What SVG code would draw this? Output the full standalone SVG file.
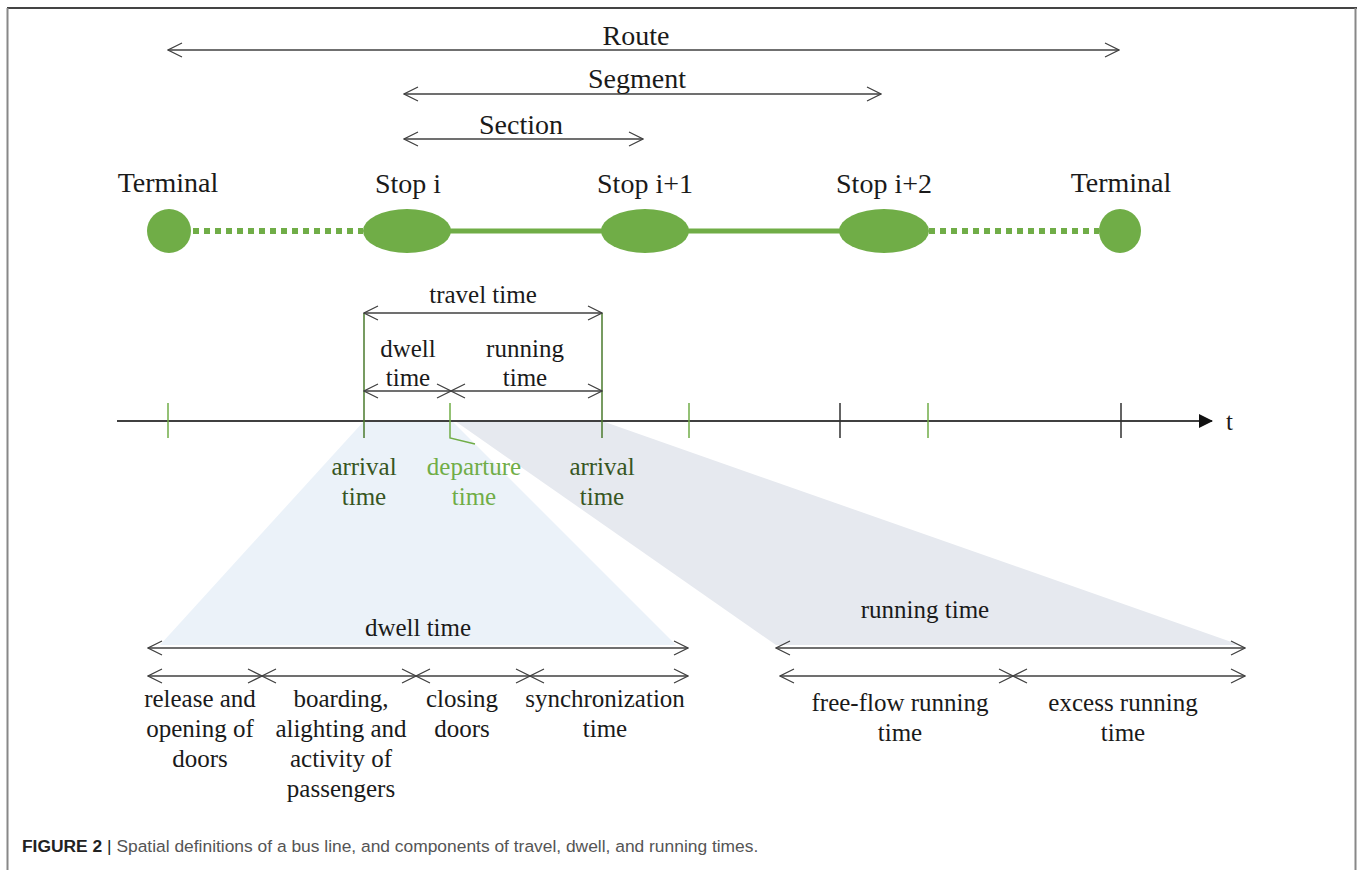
<svg xmlns="http://www.w3.org/2000/svg" width="1358" height="870" viewBox="0 0 1358 870">
  <defs>
    <marker id="open" viewBox="0 0 16 16" refX="15" refY="8" markerWidth="16" markerHeight="16" markerUnits="userSpaceOnUse" orient="auto-start-reverse">
      <path d="M1,1 L15,8 L1,15" fill="none" stroke="#404040" stroke-width="1.2"/>
    </marker>
    <marker id="solid" viewBox="0 0 14 14" refX="13" refY="7" markerWidth="14" markerHeight="14" markerUnits="userSpaceOnUse" orient="auto">
      <path d="M0,0 L14,7 L0,14 Z" fill="#111"/>
    </marker>
  </defs>
  <style>
    .t { font-family: "Liberation Serif", "Times New Roman", serif; font-size: 25px; fill: #1a1a1a; text-anchor: middle; }
    .big { font-size: 28px; }
    .dim { stroke: #404040; stroke-width: 1.5; fill: none; marker-start: url(#open); marker-end: url(#open); }
    .node { fill: #70AD47; }
    .dash { stroke: #70AD47; stroke-width: 6; stroke-dasharray: 6 5; fill: none; }
    .link { stroke: #70AD47; stroke-width: 5; fill: none; }
    .tick-g { stroke: #70AD47; stroke-width: 1.5; }
    .tick-dg { stroke: #4A7A2C; stroke-width: 1.5; }
    .tick-k { stroke: #303030; stroke-width: 1.5; }
    .dk { fill: #375623; }
    .lg { fill: #70AD47; }
  </style>

  <!-- frame -->
  <rect width="1358" height="870" fill="#ffffff"/>
  <line x1="7" y1="8" x2="1357" y2="8" stroke="#444" stroke-width="2"/>
  <line x1="7.5" y1="8" x2="7.5" y2="870" stroke="#888" stroke-width="2"/>
  <line x1="1355.5" y1="8" x2="1355.5" y2="870" stroke="#888" stroke-width="2"/>

  <!-- projection wedges -->
  <polygon points="364,421 452,421 676,645 160,645" fill="#EBF2F9"/>
  <polygon points="455,421 602,421 1240,645 776,645" fill="#E6E9EF"/>

  <!-- spatial extents -->
  <g id="extents">
    <line class="dim" x1="168" y1="50" x2="1119" y2="50"/>
    <text class="t big" x="636" y="45">Route</text>
    <line class="dim" x1="404" y1="94" x2="881" y2="94"/>
    <text class="t big" x="637" y="88">Segment</text>
    <line class="dim" x1="404" y1="139" x2="643" y2="139"/>
    <text class="t big" x="521" y="134">Section</text>
  </g>

  <!-- line between stops -->
  <g id="connectors">
    <line class="dash" x1="193" y1="231" x2="363" y2="231"/>
    <line class="link" x1="450" y1="231" x2="602" y2="231"/>
    <line class="link" x1="688" y1="231" x2="840" y2="231"/>
    <line class="dash" x1="929" y1="231" x2="1099" y2="231"/>
  </g>

  <g id="terminal-start">
    <text class="t big" x="168" y="192">Terminal</text>
    <circle class="node" cx="169" cy="231" r="22"/>
  </g>
  <g id="stop-i">
    <text class="t big" x="408" y="193">Stop i</text>
    <ellipse class="node" cx="407" cy="231" rx="44" ry="22"/>
  </g>
  <g id="stop-i1">
    <text class="t big" x="645" y="193">Stop i+1</text>
    <ellipse class="node" cx="645" cy="231" rx="44" ry="22"/>
  </g>
  <g id="stop-i2">
    <text class="t big" x="884" y="193">Stop i+2</text>
    <ellipse class="node" cx="884" cy="231" rx="45" ry="22"/>
  </g>
  <g id="terminal-end">
    <text class="t big" x="1121" y="192">Terminal</text>
    <ellipse class="node" cx="1120" cy="231" rx="21" ry="22"/>
  </g>

  <!-- time axis -->
  <g id="time-axis">
    <line x1="117" y1="421" x2="1212" y2="421" stroke="#404040" stroke-width="2" marker-end="url(#solid)"/>
    <text x="1226" y="430" font-family="Liberation Serif, serif" font-size="25" fill="#1a1a1a">t</text>
    <line class="tick-g" x1="168" y1="403" x2="168" y2="438"/>
    <line class="tick-g" x1="689" y1="403" x2="689" y2="438"/>
    <line class="tick-k" x1="840" y1="403" x2="840" y2="438"/>
    <line class="tick-g" x1="928" y1="403" x2="928" y2="438"/>
    <line class="tick-k" x1="1121" y1="403" x2="1121" y2="438"/>
    <line class="tick-dg" x1="364" y1="313" x2="364" y2="438"/>
    <line class="tick-dg" x1="602" y1="313" x2="602" y2="438"/>
    <polyline points="450,403 450,438 475,444" fill="none" stroke="#70AD47" stroke-width="1.5"/>
  </g>

  <!-- travel / dwell / running on the axis -->
  <g id="travel-time">
    <line class="dim" x1="364" y1="313" x2="602" y2="313"/>
    <text class="t" x="483" y="303" font-size="26">travel time</text>
    <line class="dim" x1="364" y1="391" x2="451" y2="391"/>
    <line class="dim" x1="451" y1="391" x2="602" y2="391"/>
    <text class="t" x="408" y="357">dwell</text>
    <text class="t" x="408" y="386">time</text>
    <text class="t" x="525" y="357">running</text>
    <text class="t" x="525" y="386">time</text>
  </g>

  <g id="event-labels">
    <text class="t dk" x="364" y="475">arrival</text>
    <text class="t dk" x="364" y="505">time</text>
    <text class="t lg" x="474" y="475">departure</text>
    <text class="t lg" x="474" y="505">time</text>
    <text class="t dk" x="602" y="475">arrival</text>
    <text class="t dk" x="602" y="505">time</text>
  </g>

  <!-- dwell time breakdown -->
  <g id="dwell-breakdown">
    <text class="t" x="418" y="636">dwell time</text>
    <line class="dim" x1="148" y1="648" x2="688" y2="648"/>
    <line class="dim" x1="148" y1="676" x2="262" y2="676"/>
    <line class="dim" x1="262" y1="676" x2="416" y2="676"/>
    <line class="dim" x1="416" y1="676" x2="530" y2="676"/>
    <line class="dim" x1="530" y1="676" x2="688" y2="676"/>
    <text class="t" x="200" y="707">release and</text>
    <text class="t" x="200" y="737">opening of</text>
    <text class="t" x="200" y="767">doors</text>
    <text class="t" x="341" y="707">boarding,</text>
    <text class="t" x="341" y="737">alighting and</text>
    <text class="t" x="341" y="767">activity of</text>
    <text class="t" x="341" y="797">passengers</text>
    <text class="t" x="462" y="707">closing</text>
    <text class="t" x="462" y="737">doors</text>
    <text class="t" x="605" y="707">synchronization</text>
    <text class="t" x="605" y="737">time</text>
  </g>

  <!-- running time breakdown -->
  <g id="running-breakdown">
    <text class="t" x="925" y="618">running time</text>
    <line class="dim" x1="776" y1="648" x2="1245" y2="648"/>
    <line class="dim" x1="780" y1="676" x2="1013" y2="676"/>
    <line class="dim" x1="1013" y1="676" x2="1245" y2="676"/>
    <text class="t" x="900" y="711">free-flow running</text>
    <text class="t" x="900" y="741">time</text>
    <text class="t" x="1123" y="711">excess running</text>
    <text class="t" x="1123" y="741">time</text>
  </g>

  <!-- caption -->
  <text x="22" y="852" font-family="Liberation Sans, Arial, sans-serif" font-size="17.4" fill="#555"><tspan font-weight="bold" fill="#222">FIGURE 2</tspan> <tspan fill="#222">|</tspan> Spatial definitions of a bus line, and components of travel, dwell, and running times.</text>
</svg>
